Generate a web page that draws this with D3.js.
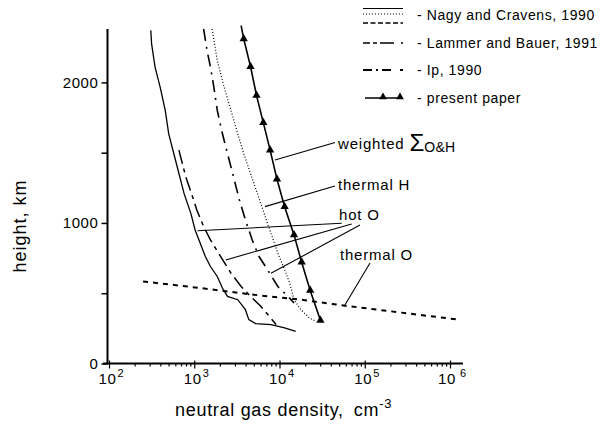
<!DOCTYPE html>
<html>
<head>
<meta charset="utf-8">
<script src="https://cdn.jsdelivr.net/npm/d3@7"></script>
<style>
  html, body { margin: 0; padding: 0; background: #fff; }
  svg { display: block; font-family: "Liberation Sans", Arial, Helvetica, sans-serif; }
</style>
</head>
<body>
<svg id="chart" width="610" height="433"></svg>
<script>
// ---------- data (density in cm^-3, height in km) ----------
const nagyHotODensity = [309, 316, 347, 398, 457, 501, 575, 661, 759, 912, 1023, 1175, 1349, 1549, 1862, 2138, 2455, 3236, 3981, 4365, 5248, 7943, 11482, 15488];
const nagyHotOHeight  = [2370, 2274, 2109, 1967, 1801, 1636, 1494, 1352, 1210, 1068, 950, 856, 761, 690, 619, 537, 477, 454, 383, 312, 284, 277, 253, 229];

const nagyThermalHDensity = [1622, 1862, 2239, 2692, 3236, 3802, 4571, 5495, 6607, 7943, 9550, 11482, 13183, 14791, 17783, 22387, 26915];
const nagyThermalHHeight  = [2380, 2156, 1967, 1801, 1636, 1494, 1352, 1210, 1068, 927, 785, 667, 572, 454, 383, 324, 300];

const nagyThermalODensity = [251, 1175, 5012, 17783, 58884, 269153, 1258925];
const nagyThermalOHeight  = [584, 537, 489, 454, 411, 362, 312];

const lammerHotODensity = [661, 794, 955, 1072, 1288, 1549, 2042, 2692, 3548, 4571, 6026, 7586, 9120];
const lammerHotOHeight  = [1518, 1329, 1187, 1092, 974, 879, 761, 643, 548, 477, 407, 336, 277];

const ipHotODensity = [1288, 1413, 1549, 1698, 1862, 2138, 2455, 2951, 3388, 3981, 4786, 5754, 7244, 9550, 12589, 14791];
const ipHotOHeight  = [2380, 2227, 2109, 1967, 1801, 1636, 1494, 1305, 1163, 1021, 879, 761, 667, 548, 477, 430];

const presentDensity = [3548, 3802, 4571, 5370, 6457, 7762, 9333, 11482, 14791, 18197, 22909, 30200];
const presentHeight  = [2404, 2310, 2113, 1908, 1714, 1518, 1312, 1116, 915, 721, 520, 307];

const yTickValues = [0, 500, 1000, 1500, 2000];
const yTickLabels = ["0", "", "1000", "", "2000"];
const xDecades = [2, 3, 4, 5, 6];

const legendLabels = ["- Nagy and Cravens, 1990", "- Lammer and Bauer, 1991", "- Ip, 1990", "- present paper"];

// annotations: curve anchor points (density, height)
const annotWeightedAnchor = [8850, 1448];
const annotThermalHAnchor = [6750, 1116];
const annotHotOAnchors = [[1096, 945], [2340, 737], [7940, 642]];
const annotThermalOAnchor = [58500, 416];

// ---------- layout ----------
const svg = d3.select("#chart");
const x = d3.scaleLog().domain([100, 1.42e6]).range([109, 463]);
const y = d3.scaleLinear().domain([0, 2380]).range([363.5, 29]);

const zip = (a, b) => a.map((v, i) => [v, b[i]]);
const line = d3.line().x(d => x(d[0])).y(d => y(d[1])).curve(d3.curveLinear);

// ---------- axes ----------
const yAxis = d3.axisLeft(y).tickValues(yTickValues)
  .tickFormat((d, i) => yTickLabels[i]).tickSize(6).tickPadding(3);
const gy = svg.append("g").attr("transform", "translate(107.5,0)").call(yAxis);
gy.select(".domain").attr("stroke-width", 2).attr("d", `M0,${y(0)}V${y(2380)}`);
gy.selectAll(".tick line").attr("stroke-width", 1.5);
gy.selectAll(".tick text").attr("font-size", 15).attr("letter-spacing", 0.6).attr("fill", "#000");

const xMinor = [];
[2, 3, 4, 5].forEach(k => { for (let m = 2; m <= 9; m++) xMinor.push(m * Math.pow(10, k)); });
[2, 3, 4, 5, 6].forEach(k => xMinor.push(Math.pow(10, k)));
const xAxis = d3.axisBottom(x).tickValues(xMinor).tickFormat("").tickSize(3);
const gx = svg.append("g").attr("transform", `translate(0,${y(0)})`).call(xAxis);
gx.select(".domain").attr("stroke-width", 2).attr("d", `M${x(100) - 6},0H${x(1.42e6)}`);
gx.selectAll(".tick line").attr("stroke-width", 1.2)
  .attr("y1", d => Number.isInteger(Math.log10(d)) ? -3 : 0)
  .attr("y2", d => Number.isInteger(Math.log10(d)) ? 5 : 3);

const xl = svg.append("g").attr("font-size", 15).attr("fill", "#000");
xDecades.forEach(k => {
  const t = xl.append("text").attr("x", x(Math.pow(10, k)) + 2).attr("y", 384).attr("text-anchor", "middle");
  t.append("tspan").text("10").attr("letter-spacing", 0.6);
  t.append("tspan").text(String(k)).attr("font-size", 11).attr("dy", -7).attr("dx", k === 6 ? 4 : 1);
});

// axis titles
svg.append("text").attr("transform", "translate(26,226) rotate(-90)")
  .attr("text-anchor", "middle").attr("font-size", 18).attr("letter-spacing", 1).text("height, km");
const xt = svg.append("text").attr("x", 175).attr("y", 416).attr("font-size", 18).attr("letter-spacing", 0.7);
xt.append("tspan").text("neutral gas density,");
xt.append("tspan").text("cm").attr("dx", 10);
xt.append("tspan").text("-3").attr("font-size", 13).attr("dy", -8);

// ---------- curves ----------
const curves = svg.append("g").attr("fill", "none").attr("stroke", "#000");
curves.append("path").datum(zip(nagyHotODensity, nagyHotOHeight)).attr("d", line).attr("stroke-width", 1.3);
curves.append("path").datum(zip(nagyThermalHDensity, nagyThermalHHeight)).attr("d", line)
  .attr("stroke-width", 1.2).attr("stroke-dasharray", "1,2");
curves.append("path").datum(zip(nagyThermalODensity, nagyThermalOHeight)).attr("d", line)
  .attr("stroke-width", 2).attr("stroke-dasharray", "5,5");
curves.append("path").datum(zip(lammerHotODensity, lammerHotOHeight)).attr("d", line)
  .attr("stroke-width", 1.5).attr("stroke-dasharray", "14,5,4,5");
curves.append("path").datum(zip(ipHotODensity, ipHotOHeight)).attr("d", line)
  .attr("stroke-width", 1.6).attr("stroke-dasharray", "12,6,2,6");
curves.append("path").datum(zip(presentDensity, presentHeight)).attr("d", line).attr("stroke-width", 1.6);

const tri = d3.symbol().type(d3.symbolTriangle).size(30);
svg.append("g").selectAll("path").data(zip(presentDensity, presentHeight).slice(1)).join("path")
  .attr("d", tri).attr("transform", d => `translate(${x(d[0])},${y(d[1])})`).attr("fill", "#000");

// ---------- annotations ----------
const ann = svg.append("g").attr("font-size", 15).attr("letter-spacing", 0.8).attr("fill", "#000");
const lead = svg.append("g").attr("stroke", "#000").attr("stroke-width", 1.1).attr("fill", "none");
function leader(anchor, tx, ty) {
  lead.append("line").attr("x1", x(anchor[0])).attr("y1", y(anchor[1])).attr("x2", tx).attr("y2", ty);
}
leader(annotWeightedAnchor, 335, 142.5);
const tw = ann.append("text").attr("x", 338).attr("y", 149);
tw.append("tspan").text("weighted ");
tw.append("tspan").text("Σ").attr("font-size", 24).attr("dy", 2).attr("letter-spacing", 0);
tw.append("tspan").text("O&H").attr("font-size", 14).attr("dy", 1).attr("letter-spacing", 0.3);

leader(annotThermalHAnchor, 335, 186);
ann.append("text").attr("x", 338).attr("y", 190).text("thermal H");

leader(annotHotOAnchors[0], 341.7, 223.3);
leader(annotHotOAnchors[1], 351.7, 224);
leader(annotHotOAnchors[2], 360, 225);
ann.append("text").attr("x", 339).attr("y", 220).text("hot O");

leader(annotThermalOAnchor, 370, 263);
ann.append("text").attr("x", 340).attr("y", 260).text("thermal O");

// ---------- legend ----------
const lg = svg.append("g");
const lx0 = 363, lx1 = 403;
const ls = lg.append("g").attr("stroke", "#000").attr("fill", "none");
ls.append("line").attr("x1", lx0).attr("x2", lx1).attr("y1", 8.5).attr("y2", 8.5).attr("stroke-width", 1.1);
ls.append("line").attr("x1", lx0).attr("x2", lx1).attr("y1", 14).attr("y2", 14).attr("stroke-width", 1.2).attr("stroke-dasharray", "1,2");
ls.append("line").attr("x1", lx0).attr("x2", lx1).attr("y1", 23).attr("y2", 23).attr("stroke-width", 1.6).attr("stroke-dasharray", "5,2.5");
ls.append("line").attr("x1", lx0).attr("x2", lx1).attr("y1", 43).attr("y2", 43).attr("stroke-width", 1.3).attr("stroke-dasharray", "7,3,4,3,14");
ls.append("line").attr("x1", lx0).attr("x2", lx1).attr("y1", 70).attr("y2", 70).attr("stroke-width", 1.8).attr("stroke-dasharray", "9,4,2,4,9");
ls.append("line").attr("x1", lx0 + 2).attr("x2", lx1).attr("y1", 98).attr("y2", 98).attr("stroke-width", 1.6);
[383, 400].forEach(px => lg.append("path").attr("d", d3.symbol().type(d3.symbolTriangle).size(26))
  .attr("transform", `translate(${px},97)`).attr("fill", "#000"));

const legendY = [20, 48, 75, 103];
lg.selectAll("text.lab").data(legendLabels).join("text").attr("class", "lab")
  .attr("x", 417).attr("y", (d, i) => legendY[i]).attr("font-size", 14).attr("letter-spacing", 0.6)
  .attr("fill", "#000").text(d => d);
</script>
</body>
</html>
